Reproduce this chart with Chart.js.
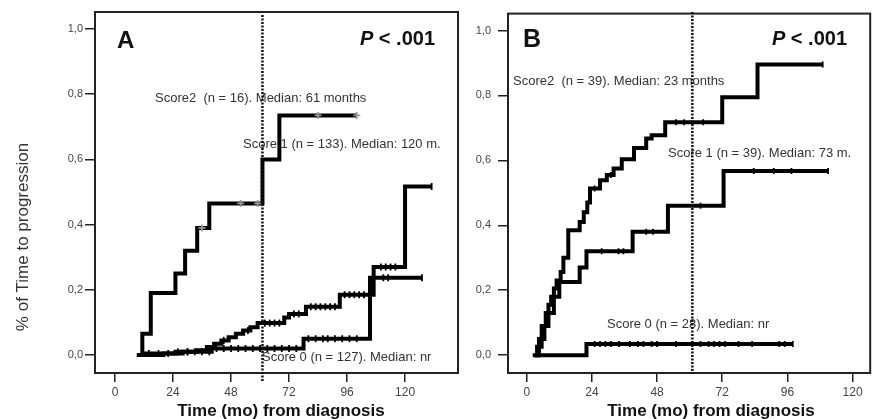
<!DOCTYPE html>
<html><head><meta charset="utf-8">
<script src="https://cdn.jsdelivr.net/npm/chart.js@4/dist/chart.umd.min.js"></script>
<style>
html,body{margin:0;padding:0;background:#fff;}
#wrap{position:relative;width:876px;height:419px;overflow:hidden;background:#fff;}
canvas{position:absolute;top:0;}
#ca{left:0;} #cb{left:466px;}
</style></head><body>
<div id="wrap"><canvas id="ca" width="466" height="419"></canvas><canvas id="cb" width="410" height="419"></canvas></div>
<script>
// ---------- data (months, cumulative proportion) ----------
const xTicks = [0, 24, 48, 72, 96, 120];
const yTicks = [0, 0.2, 0.4, 0.6, 0.8, 1.0];

// Panel A
const A_score2_t = [9.5, 11.3, 14.8, 25, 29, 34, 39, 61, 68, 100];
const A_score2_y = [0, 0.065, 0.19, 0.25, 0.32, 0.39, 0.465, 0.60, 0.735, 0.735];
const A_score2_cens = [36, 52, 59, 84, 100];

const A_score1_t = [9, 20, 28, 34, 38, 41, 44, 47, 50, 53, 56, 59, 70, 72, 79, 93, 107, 120, 131];
const A_score1_y = [0, 0.005, 0.01, 0.015, 0.025, 0.035, 0.045, 0.055, 0.065, 0.075, 0.085, 0.098, 0.115, 0.126, 0.148, 0.185, 0.27, 0.517, 0.517];
const A_score1_cens = [30, 45, 55, 62, 64, 66, 68, 74, 76, 81, 83, 85, 87, 89, 91, 95, 97, 99, 101, 103, 110, 112, 114, 116, 131];

const A_score0_t = [9.5, 12, 25, 40, 78, 105.5, 127];
const A_score0_y = [0, 0.005, 0.01, 0.02, 0.05, 0.237, 0.237];
const A_score0_cens = [14, 18, 22, 26, 30, 33, 36, 39, 42, 45, 48, 51, 54, 57, 60, 63, 66, 69, 72, 75, 80, 83, 86, 88, 91, 94, 97, 100, 111, 113, 127];

// Panel B
const B_score2_t = [3, 3.8, 5.5, 7, 8, 9, 10, 11, 12.5, 13.5, 15.3, 19.5, 21, 22.3, 23.3, 27, 29.5, 32, 35, 39.5, 44, 46, 51, 72, 85, 109];
const B_score2_y = [0, 0.026, 0.09, 0.13, 0.155, 0.18, 0.205, 0.23, 0.256, 0.30, 0.385, 0.41, 0.44, 0.47, 0.513, 0.539, 0.555, 0.575, 0.603, 0.638, 0.667, 0.677, 0.717, 0.794, 0.895, 0.895];
const B_score2_cens = [25, 31, 55, 58, 65, 109];

const B_score1_t = [3, 4.5, 6.5, 8, 10, 12, 19.5, 22, 39, 52, 72.5, 111];
const B_score1_y = [0, 0.05, 0.09, 0.13, 0.18, 0.225, 0.27, 0.32, 0.38, 0.46, 0.567, 0.567];
const B_score1_cens = [27.6, 33.8, 35.6, 44, 46.5, 64, 83.6, 91, 97.5, 111];

const B_score0_t = [2.2, 22, 98];
const B_score0_y = [0, 0.034, 0.034];
const B_score0_cens = [25, 27, 29, 31, 34, 38, 41, 43, 46, 48, 55, 61, 64, 67, 69, 71, 73, 78, 83, 93, 95, 98];

const medianLine = 61;

const labelsA = {
  panel: 'A', p: ' < .001',
  s2: 'Score2  (n = 16). Median: 61 months',
  s1: 'Score 1 (n = 133). Median: 120 m.',
  s0: 'Score 0 (n = 127). Median: nr'
};
const labelsB = {
  panel: 'B', p: ' < .001',
  s2: 'Score2  (n = 39). Median: 23 months',
  s1: 'Score 1 (n = 39). Median: 73 m.',
  s0: 'Score 0 (n = 28). Median: nr'
};
const xTitle = 'Time (mo) from diagnosis';
const yTitle = '% of Time to progression';

// ---------- helpers ----------
const FONT = "'Liberation Sans', Arial, Helvetica, sans-serif";
function km(t, y) { return t.map((v, i) => ({x: v, y: y[i]})); }
function valAt(t, y, x) { let r = y[0]; for (let i = 0; i < t.length; i++) { if (t[i] <= x) r = y[i]; } return r; }
function cens(t, y, c) { return c.map(v => ({x: v, y: valAt(t, y, v)})); }

function curve(t, y) {
  return {data: km(t, y), showLine: true, stepped: true, borderColor: '#000', borderWidth: 4,
    pointRadius: 0, fill: false, borderCapStyle: 'butt', borderJoinStyle: 'miter', order: 2};
}
function censorSet(t, y, c, color, style, r) {
  return {data: cens(t, y, c), showLine: false, pointStyle: style, rotation: style === 'line' ? 90 : 0,
    pointRadius: r, borderColor: color, backgroundColor: color, pointBorderWidth: 1.8, order: 1};
}

function makeOptions(xmin, xmax, yAxisWidth, yPad, pad) {
  return {
    responsive: false, animation: false, devicePixelRatio: 1,
    layout: {padding: pad},
    plugins: {legend: {display: false}, tooltip: {enabled: false}},
    scales: {
      x: {type: 'linear', min: xmin, max: xmax,
        afterBuildTicks: s => { s.ticks = xTicks.map(v => ({value: v})); },
        afterFit: s => { s.height = 46; },
        ticks: {font: {family: FONT, size: 12}, color: '#444', padding: 3, maxRotation: 0, autoSkip: false},
        grid: {drawOnChartArea: false, drawTicks: true, tickLength: 9, color: '#222', lineWidth: 1.5},
        border: {display: false}},
      y: {type: 'linear', min: -0.055, max: 1.052,
        afterBuildTicks: s => { s.ticks = yTicks.map(v => ({value: v})); },
        afterFit: s => { s.width = yAxisWidth; },
        ticks: {font: {family: FONT, size: 11}, color: '#444', padding: yPad,
          callback: v => v.toFixed(1).replace('.', ',')},
        grid: {drawOnChartArea: false, drawTicks: true, tickLength: 10, color: '#222', lineWidth: 1.5},
        border: {display: false}}
    }
  };
}

function panelPlugin(lab, pos) {
  return {
    id: 'panel' + lab.panel,
    beforeDatasetsDraw(chart) {
      const ctx = chart.ctx;
      ctx.save();
      ctx.fillStyle = '#333';
      ctx.font = '13px ' + FONT;
      ctx.textBaseline = 'middle';
      ctx.textAlign = 'left';
      ctx.fillText(lab.s2, pos.s2[0], pos.s2[1]);
      ctx.fillText(lab.s1, pos.s1[0], pos.s1[1]);
      ctx.fillText(lab.s0, pos.s0[0], pos.s0[1]);
      ctx.restore();
    },
    afterDatasetsDraw(chart) {
      const ctx = chart.ctx, a = chart.chartArea;
      ctx.save();
      // frame
      ctx.strokeStyle = '#222';
      ctx.lineWidth = 2;
      ctx.strokeRect(a.left, a.top, a.right - a.left, a.bottom - a.top);
      // median reference line
      const xp = chart.scales.x.getPixelForValue(medianLine);
      ctx.strokeStyle = '#111';
      ctx.lineWidth = 2.5;
      ctx.setLineDash([2, 1.5]);
      ctx.beginPath();
      ctx.moveTo(xp, pos.dot[0]);
      ctx.lineTo(xp, pos.dot[1]);
      ctx.stroke();
      ctx.setLineDash([]);
      // panel letter and P value
      ctx.fillStyle = '#111';
      ctx.textBaseline = 'alphabetic';
      ctx.textAlign = 'left';
      ctx.font = 'bold ' + pos.letterSize + 'px ' + FONT;
      ctx.fillText(lab.panel, pos.letter[0], pos.letter[1]);
      ctx.font = 'bold 20px ' + FONT;
      const w2 = ctx.measureText(lab.p).width;
      ctx.font = 'italic bold 20px ' + FONT;
      const w1 = ctx.measureText('P').width;
      const x0 = pos.p[0] - w1 - w2;
      ctx.fillText('P', x0, pos.p[1]);
      ctx.font = 'bold 20px ' + FONT;
      ctx.fillText(lab.p, x0 + w1, pos.p[1]);
      // x title
      ctx.textAlign = 'center';
      ctx.textBaseline = 'middle';
      ctx.font = 'bold 17px ' + FONT;
      ctx.fillText(xTitle, pos.xt[0], pos.xt[1]);
      if (pos.yt) {
        ctx.font = '17px ' + FONT;
        ctx.fillStyle = '#333';
        ctx.translate(pos.yt[0], pos.yt[1]);
        ctx.rotate(-Math.PI / 2);
        ctx.fillText(yTitle, 0, 0);
      }
      ctx.restore();
    }
  };
}

new Chart(document.getElementById('ca'), {
  type: 'scatter',
  data: {datasets: [
    curve(A_score2_t, A_score2_y),
    curve(A_score1_t, A_score1_y),
    curve(A_score0_t, A_score0_y),
    censorSet(A_score2_t, A_score2_y, A_score2_cens, '#999', 'cross', 3.5),
    censorSet(A_score1_t, A_score1_y, A_score1_cens, '#000', 'line', 3.5),
    censorSet(A_score0_t, A_score0_y, A_score0_cens, '#000', 'line', 3.5)
  ]},
  options: makeOptions(-8.28, 141.9, 95, 2, {left: 0, top: 12, right: 8, bottom: 0}),
  plugins: [panelPlugin(labelsA, {
    s2: [155, 98], s1: [243, 144], s0: [262, 357],
    dot: [15, 381], letter: [117, 48], letterSize: 24, p: [435, 45],
    xt: [281, 411], yt: [23, 237]
  })]
});

new Chart(document.getElementById('cb'), {
  type: 'scatter',
  data: {datasets: [
    curve(B_score2_t, B_score2_y),
    curve(B_score1_t, B_score1_y),
    curve(B_score0_t, B_score0_y),
    censorSet(B_score2_t, B_score2_y, B_score2_cens, '#000', 'line', 3),
    censorSet(B_score1_t, B_score1_y, B_score1_cens, '#000', 'line', 3),
    censorSet(B_score0_t, B_score0_y, B_score0_cens, '#000', 'line', 3)
  ]},
  options: makeOptions(-6.9, 126.5, 42, 7, {left: 0, top: 12, right: 1, bottom: 0}),
  plugins: [panelPlugin(labelsB, {
    s2: [47, 81], s1: [202, 153], s0: [141, 324],
    dot: [12, 374], letter: [57, 47], letterSize: 25, p: [381, 45],
    xt: [245, 411], yt: null
  })]
});
</script>
</body></html>
